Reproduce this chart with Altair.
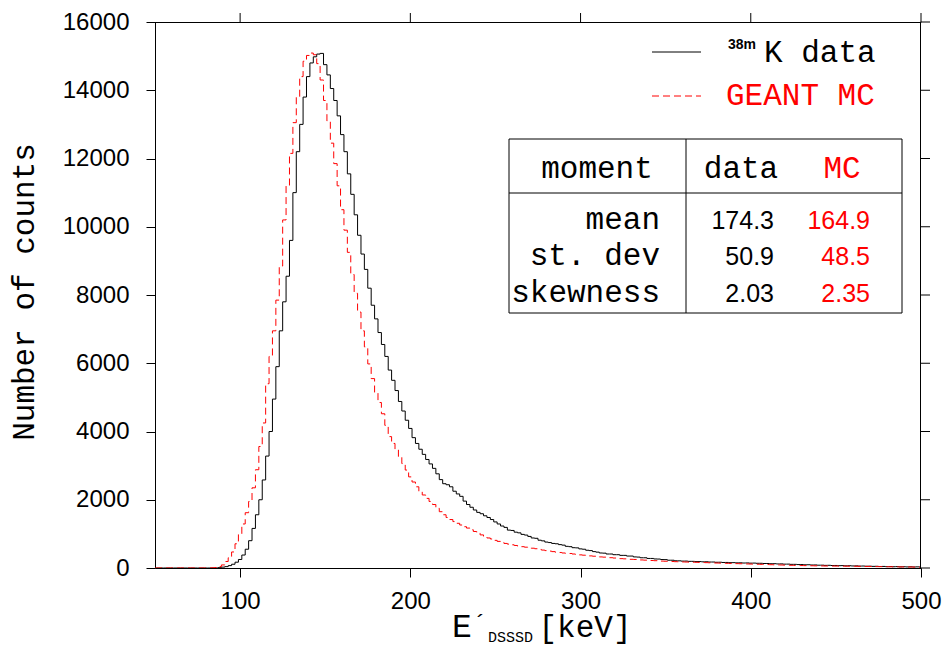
import altair as alt
import pandas as pd

# ---------------- data ----------------
E_START = 50      # keV, centre of first bin
E_STEP = 2        # keV, bin width

data_counts = [
    0, 0, 0, 0, 0, 0, 0, 0, 0, 0,                                   # 50-68
    0, 0, 0, 0, 0, 0, 0, 0, 0, 10,                                  # 70-88
    25, 40, 70, 110, 170, 250, 380, 550, 800, 1160,                 # 90-108
    1560, 2000, 2580, 3280, 4000, 4950, 5900, 6950, 7800, 8550,     # 110-128
    9600, 11000, 12200, 13000, 13800, 14400, 14800, 14980, 15060, 15080,  # 130-148
    14750, 14450, 14050, 13700, 13250, 12700, 12200, 11550, 10950, 10350,  # 150-168
    9750, 9200, 8750, 8200, 7700, 7300, 6900, 6550, 6200, 5800,     # 170-188
    5500, 5200, 4880, 4600, 4330, 4090, 3820, 3650, 3480, 3330,     # 190-208
    3180, 3050, 2920, 2760, 2590, 2470, 2440, 2380, 2250, 2170,     # 210-228
    2100, 1960, 1860, 1780, 1700, 1630, 1590, 1530, 1480, 1420,     # 230-248
    1350, 1290, 1230, 1190, 1110, 1100, 1050, 1030, 985, 965,       # 250-268
    925, 880, 870, 815, 795, 760, 745, 720, 710, 685,               # 270-288
    670, 635, 625, 595, 590, 560, 550, 520, 510, 480,               # 290-308
    465, 440, 435, 410, 410, 390, 390, 370, 370, 350,               # 310-328
    350, 325, 320, 300, 300, 280, 280, 265, 262, 248,               # 330-348
    245, 228, 228, 212, 210, 202, 203, 195, 195, 188,               # 350-368
    188, 181, 182, 175, 175, 168, 169, 162, 163, 156,               # 370-388
    157, 151, 152, 146, 148, 142, 144, 138, 138, 132,               # 390-408
    132, 125, 126, 119, 120, 113, 114, 107, 107, 100,               # 410-428
    101, 94, 95, 88, 89, 82, 83, 77, 79, 73,                        # 430-448
    74, 68, 70, 64, 66, 60, 62, 56, 58, 52,                         # 450-468
    54, 48, 50, 44, 46, 40, 42, 37, 40, 34,                         # 470-488
    37, 32, 35, 30, 33, 30,                                         # 490-500
]

mc_counts = [
    0, 0, 0, 0, 0, 0, 0, 0, 0, 0,                                   # 50-68
    0, 0, 0, 0, 0, 0, 0, 5, 15, 40,                                 # 70-88
    90, 190, 300, 470, 710, 990, 1290, 1620, 1950, 2350,            # 90-108
    2880, 3560, 4250, 5400, 6200, 6950, 7850, 8850, 10200, 11200,   # 110-128
    12150, 13050, 13800, 14400, 14850, 15020, 15090, 15040, 14780, 14300,  # 130-148
    13700, 13100, 12450, 11850, 11200, 10500, 9900, 9250, 8600, 8050,      # 150-168
    7500, 6950, 6480, 5980, 5550, 5150, 4850, 4520, 4180, 3850,     # 170-188
    3650, 3460, 3260, 3060, 2870, 2670, 2520, 2380, 2250, 2140,     # 190-208
    2040, 1950, 1860, 1750, 1650, 1560, 1480, 1420, 1360, 1310,     # 210-228
    1260, 1210, 1170, 1120, 1070, 1020, 970, 930, 880, 850,         # 230-248
    810, 780, 750, 720, 700, 680, 660, 640, 625, 610,               # 250-268
    595, 580, 565, 545, 525, 510, 495, 480, 465, 455,               # 270-288
    440, 430, 425, 410, 395, 385, 375, 365, 355, 345,               # 290-308
    335, 325, 318, 310, 302, 292, 282, 274, 268, 262,               # 310-328
    255, 250, 244, 236, 230, 225, 220, 214, 208, 202,               # 330-348
    198, 194, 190, 185, 181, 178, 175, 172, 170, 167,               # 350-368
    164, 160, 157, 153, 150, 146, 143, 140, 137, 134,               # 370-388
    131, 128, 125, 122, 119, 116, 113, 110, 107, 104,               # 390-408
    101, 97, 94, 91, 88, 85, 82, 79, 76, 74,                        # 410-428
    72, 70, 68, 66, 64, 62, 61, 59, 58, 57,                         # 430-448
    56, 55, 54, 53, 52, 51, 50, 49, 47, 46,                         # 450-468
    44, 43, 41, 40, 38, 37, 36, 35, 33, 32,                         # 470-488
    31, 30, 29, 28, 27, 25,                                         # 490-500
]

x_ticks = [100, 200, 300, 400, 500]
y_ticks = [0, 2000, 4000, 6000, 8000, 10000, 12000, 14000, 16000]

y_title = "Number of counts"
x_title_main = "E"
x_title_prime = "\u00b4"
x_title_sub = "DSSSD"
x_title_unit = "[keV]"

legend_sup = "38m"
legend_data = "K data"
legend_mc = "GEANT MC"

table_header = ["moment", "data", "MC"]
moment_names = ["mean", "st. dev", "skewness"]
data_moments = ["174.3", "50.9", "2.03"]
mc_moments = ["164.9", "48.5", "2.35"]

# ---------------- chart ----------------
energies = [E_START + E_STEP * i for i in range(len(data_counts))]
df = pd.DataFrame({"E": energies, "data": data_counts, "mc": mc_counts})

MONO = "Liberation Mono"
SANS = "Liberation Sans"
RED = "#ff0000"

W, H = 766, 546
TICK = 9


def xs():
    return alt.Scale(domain=[50, 500], nice=False, zero=False)


def ys():
    return alt.Scale(domain=[0, 16000], nice=False, zero=False)


def xax():
    return alt.Axis(orient="bottom", values=x_ticks, title=None,
                    labelFlush=False, labelPadding=12, format="d")


def yax():
    return alt.Axis(orient="left", values=y_ticks, title=None,
                    labelFlush=False, labelPadding=17, format="d")


base = alt.Chart(df)

data_line = base.mark_line(
    interpolate="step", color="black", strokeWidth=1, clip=True
).encode(
    x=alt.X("E:Q", scale=xs(), axis=xax()),
    y=alt.Y("data:Q", scale=ys(), axis=yax()),
)

mc_line = base.mark_line(
    interpolate="step", color=RED, strokeWidth=1, strokeDash=[7, 4], clip=True
).encode(
    x=alt.X("E:Q", scale=xs(), axis=xax()),
    y=alt.Y("mc:Q", scale=ys(), axis=yax()),
)

# mirrored (unlabelled) axes on the top and right
top_ticks = alt.Chart(pd.DataFrame({"t": x_ticks})).mark_rule(
    color="black", strokeWidth=1
).encode(x=alt.X("t:Q", scale=xs(), axis=xax()),
         y=alt.value(-TICK), y2=alt.value(0.5))

right_ticks = alt.Chart(pd.DataFrame({"t": y_ticks})).mark_rule(
    color="black", strokeWidth=1
).encode(y=alt.Y("t:Q", scale=ys(), axis=yax()),
         x=alt.value(W - 0.5), x2=alt.value(W + TICK))

one = pd.DataFrame({"a": [0]})


def label(txt, x, y, size, font=MONO, color="black", align="left",
          baseline="alphabetic", angle=0, weight="normal"):
    return alt.Chart(one).mark_text(
        text=txt, font=font, fontSize=size, color=color, align=align,
        baseline=baseline, angle=angle, fontWeight=weight
    ).encode(x=alt.value(x), y=alt.value(y))


def hrule(x1, x2, y, color="black", dash=None):
    kw = dict(color=color, strokeWidth=1)
    if dash:
        kw["strokeDash"] = dash
    return alt.Chart(one).mark_rule(**kw).encode(
        x=alt.value(x1), x2=alt.value(x2), y=alt.value(y))


def vrule(x, y1, y2, color="black"):
    return alt.Chart(one).mark_rule(color=color, strokeWidth=1).encode(
        x=alt.value(x), y=alt.value(y1), y2=alt.value(y2))


layers = [data_line, mc_line, top_ticks, right_ticks,
          hrule(0, W, 0.5), vrule(W - 0.5, 0, H)]

# y title
layers.append(label(y_title, -130, H / 2 - 3, 31, angle=270,
                    align="center", baseline="middle"))
# x title
layers.append(label(x_title_main, 297, 615, 33))
layers.append(label(x_title_prime, 325, 609, 24, align="center"))
layers.append(label(x_title_sub, 333, 620, 15))
layers.append(label(x_title_unit, 430, 615, 31, align="center"))

# legend
layers.append(hrule(497, 546, 30))
layers.append(hrule(497, 546, 74, color=RED, dash=[7, 4]))
layers.append(label(legend_sup, 573, 27, 14, font=SANS, weight="bold"))
layers.append(label(legend_data, 609, 40, 31))
layers.append(label(legend_mc, 571, 83, 31, color=RED))

# moments table
TL, TR, TT, TB = 354, 747, 117, 291
layers.append(alt.Chart(one).mark_rect(
    fillOpacity=0, stroke="black", strokeWidth=1
).encode(x=alt.value(TL), x2=alt.value(TR), y=alt.value(TT), y2=alt.value(TB)))
layers.append(vrule(531, TT, TB))
layers.append(hrule(TL, TR, 171))

header_x = [442, 586, 687]
header_col = ["black", "black", RED]
for txt, hx, hc in zip(table_header, header_x, header_col):
    layers.append(label(txt, hx, 156, 31, color=hc, align="center"))

row_y = [207, 243, 280]
for name, dv, mv, ry in zip(moment_names, data_moments, mc_moments, row_y):
    layers.append(label(name, 505, ry, 31, align="right"))
    layers.append(label(dv, 619, ry, 25, font=SANS, align="right"))
    layers.append(label(mv, 715, ry, 25, font=SANS, color=RED, align="right"))

chart = alt.layer(*layers).properties(
    width=W, height=H,
    autosize=alt.AutoSizeParams(type="none"),
    padding={"left": 155, "top": 22, "right": 24, "bottom": 78},
).configure_axis(
    grid=False, domainColor="black", domainWidth=1, tickColor="black",
    tickWidth=1, tickSize=TICK, labelColor="black", labelFont=SANS,
    labelFontSize=24,
).configure_view(strokeWidth=0)

chart.save("out.html", embed_options={"renderer": "svg", "actions": False})
